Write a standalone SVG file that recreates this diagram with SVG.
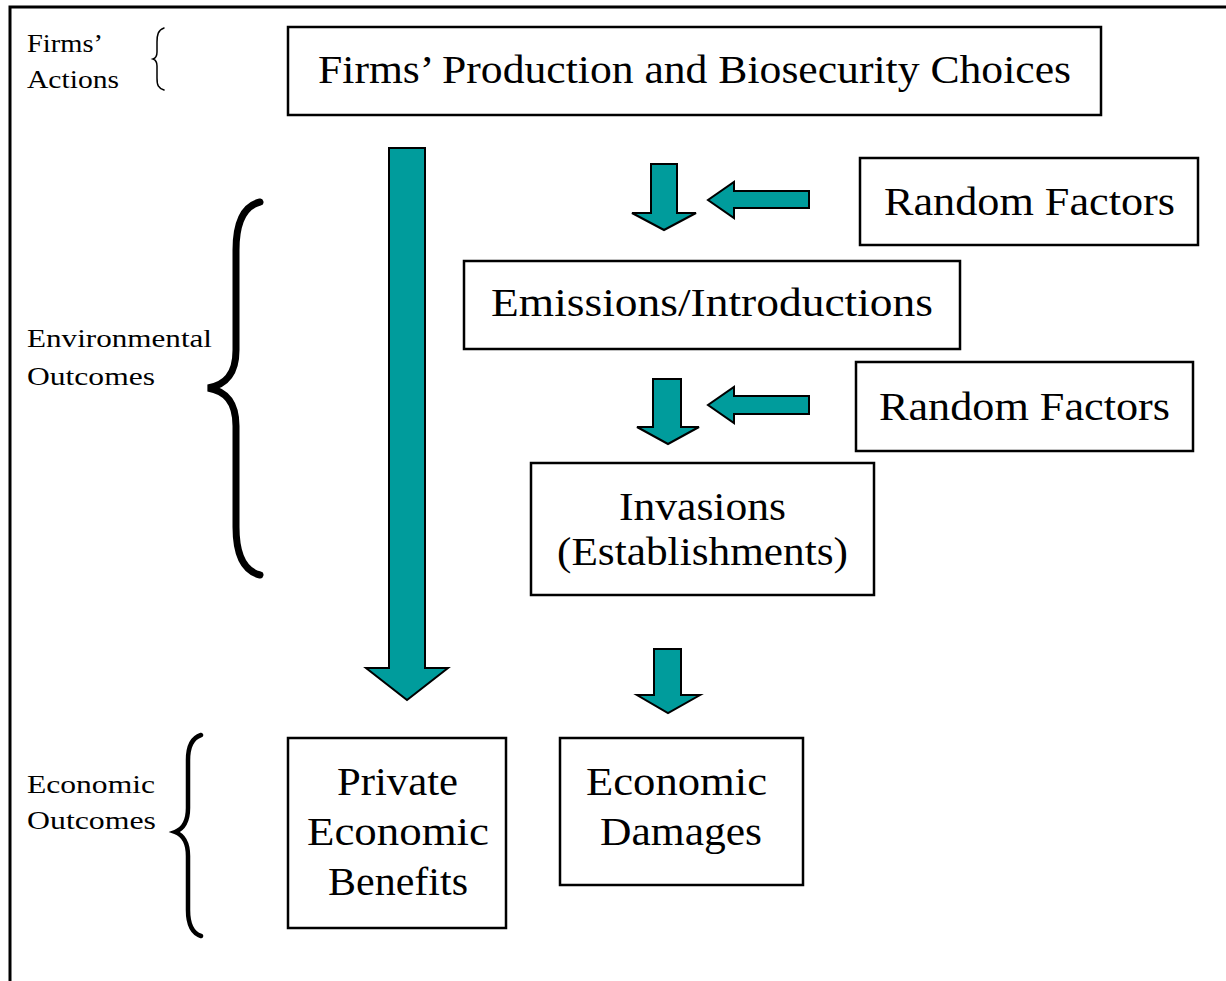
<svg xmlns="http://www.w3.org/2000/svg" width="1226" height="981" viewBox="0 0 1226 981">
<style>
.box{fill:#fff;stroke:#000;stroke-width:2.5}
.t{font-family:"Liberation Serif","Times New Roman",serif;font-size:41px;fill:#000;text-anchor:middle}
.s{font-family:"Liberation Serif","Times New Roman",serif;font-size:26px;fill:#000}
.arr{fill:#009c9c;stroke:#000;stroke-width:2;stroke-linejoin:miter}
.brace{fill:none;stroke:#000;stroke-linecap:round}
</style>
<rect width="1226" height="981" fill="#fff"/>
<g id="frame">
<path d="M10 981 V7 H1226" fill="none" stroke="#000" stroke-width="3"/>
</g>
<g id="labels">
<text class="s" x="27" y="52" textLength="76" lengthAdjust="spacingAndGlyphs">Firms’</text>
<text class="s" x="27" y="88" textLength="92" lengthAdjust="spacingAndGlyphs">Actions</text>
<text class="s" x="27" y="347" textLength="185" lengthAdjust="spacingAndGlyphs">Environmental</text>
<text class="s" x="27" y="385" textLength="128" lengthAdjust="spacingAndGlyphs">Outcomes</text>
<text class="s" x="27" y="793" textLength="128" lengthAdjust="spacingAndGlyphs">Economic</text>
<text class="s" x="27" y="829" textLength="129" lengthAdjust="spacingAndGlyphs">Outcomes</text>
<path class="brace" stroke-width="1.5" d="M164 28 C158 30 157 35 157 42 V52 C157 56 156 58 153 59 C156 60 157 62 157 66 V78 C157 85 158 88 164 90"/>
<path class="brace" stroke-width="7" d="M260 202 C244 206 236 222 236 250 V350 C236 375 225 385 208 388 C225 391 236 401 236 426 V527 C236 555 244 571 260 575"/>
<path class="brace" stroke-width="4.5" d="M201 735 C192 738 188 746 188 760 V808 C188 822 183 829 175 832 C183 835 188 842 188 856 V910 C188 924 192 933 201 936"/>
</g>
<g id="node-choices">
<rect class="box" x="288" y="27" width="813" height="88"/>
<text class="t" x="694.5" y="83" textLength="753" lengthAdjust="spacingAndGlyphs">Firms’ Production and Biosecurity Choices</text>
</g>
<g id="node-random1">
<rect class="box" x="860" y="158" width="338" height="87"/>
<text class="t" x="1029.5" y="215" textLength="291" lengthAdjust="spacingAndGlyphs">Random Factors</text>
</g>
<g id="node-emissions">
<rect class="box" x="464" y="261" width="496" height="88"/>
<text class="t" x="712" y="316" textLength="442" lengthAdjust="spacingAndGlyphs">Emissions/Introductions</text>
</g>
<g id="node-random2">
<rect class="box" x="856" y="362" width="337" height="89"/>
<text class="t" x="1024.5" y="420" textLength="291" lengthAdjust="spacingAndGlyphs">Random Factors</text>
</g>
<g id="node-invasions">
<rect class="box" x="531" y="463" width="343" height="132"/>
<text class="t" x="702.5" y="520" textLength="167" lengthAdjust="spacingAndGlyphs">Invasions</text>
<text class="t" x="702.5" y="565" textLength="291" lengthAdjust="spacingAndGlyphs">(Establishments)</text>
</g>
<g id="node-benefits">
<rect class="box" x="288" y="738" width="218" height="190"/>
<text class="t" x="397.5" y="795" textLength="121" lengthAdjust="spacingAndGlyphs">Private</text>
<text class="t" x="398" y="845" textLength="182" lengthAdjust="spacingAndGlyphs">Economic</text>
<text class="t" x="398" y="895" textLength="140" lengthAdjust="spacingAndGlyphs">Benefits</text>
</g>
<g id="node-damages">
<rect class="box" x="560" y="738" width="243" height="147"/>
<text class="t" x="676.5" y="795" textLength="181" lengthAdjust="spacingAndGlyphs">Economic</text>
<text class="t" x="681" y="845" textLength="162" lengthAdjust="spacingAndGlyphs">Damages</text>
</g>
<g id="connectors">
<path class="arr" d="M389 148 H425 V668 H448 L407 700 L366 668 H389 Z"/>
<path class="arr" d="M651 164 H677 V213 H696 L664 230 L632 213 H651 Z"/>
<path class="arr" d="M809 191 V208 H734 V218 L708 200 L734 182 V191 Z"/>
<path class="arr" d="M653 379 H681 V427 H699 L668 444 L637 427 H653 Z"/>
<path class="arr" d="M809 396 V414 H734 V423 L708 405 L734 387 V396 Z"/>
<path class="arr" d="M654 649 H681 V695 H700 L668 713 L637 695 H654 Z"/>
</g>
</svg>
